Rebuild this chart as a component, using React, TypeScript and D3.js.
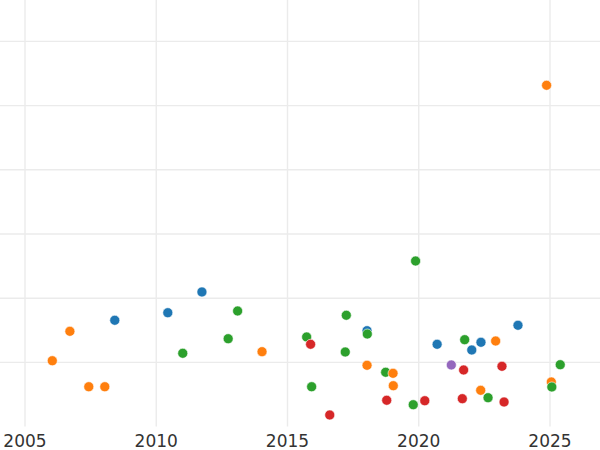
import React from 'react';
import * as d3 from 'd3';

// decimal years and values
const orangeYears = [2006.04, 2006.71, 2007.43, 2008.04, 2014.03, 2024.87, 2018.03, 2019.02, 2019.03, 2022.36, 2022.93, 2025.05];
const orangeValues = [1.026, 1.484, 0.621, 0.621, 1.167, 5.316, 0.955, 0.83, 0.637, 0.565, 1.333, 0.695];

const blueYears = [2008.42, 2010.44, 2011.74, 2018.03, 2020.7, 2022.02, 2022.37, 2023.78];
const blueValues = [1.656, 1.774, 2.097, 1.494, 1.282, 1.193, 1.313, 1.578];

const greenYears = [2011.01, 2012.74, 2013.1, 2015.73, 2015.92, 2017.24, 2017.2, 2018.04, 2018.74, 2019.88, 2019.79, 2021.75, 2022.64, 2025.07, 2025.39];
const greenValues = [1.142, 1.369, 1.801, 1.396, 0.621, 1.734, 1.162, 1.442, 0.846, 2.579, 0.341, 1.354, 0.45, 0.617, 0.964];

const redYears = [2015.88, 2016.61, 2018.78, 2020.23, 2021.71, 2021.66, 2023.17, 2023.25];
const redValues = [1.282, 0.181, 0.41, 0.403, 0.882, 0.435, 0.939, 0.383];

const purpleYears = [2021.24];
const purpleValues = [0.96];

const xTicks = [2005, 2010, 2015, 2020, 2025];
const yTicks = [1, 2, 3, 4, 5, 6];

const series = [
  { color: '#1f77b4', years: blueYears, values: blueValues },
  { color: '#ff7f0e', years: orangeYears, values: orangeValues },
  { color: '#2ca02c', years: greenYears, values: greenValues },
  { color: '#d62728', years: redYears, values: redValues },
  { color: '#9467bd', years: purpleYears, values: purpleValues },
];

const width = 600;
const height = 450;
const plotBottom = 426.6;

export default function App() {
  const x = d3.scaleLinear().domain([2005, 2025]).range([25, 550]);
  const y = d3.scaleLinear().domain([0, 6]).range([plotBottom, 41.4]);

  // draw in time order so later points sit on top
  const points = series
    .flatMap(s => s.years.map((yr, i) => ({ year: yr, value: s.values[i], color: s.color })))
    .sort((a, b) => a.year - b.year);

  return (
    <svg width={width} height={height} style={{ position: 'absolute', left: 0, top: 0, background: '#fff' }}>
      <g>
        {yTicks.map(t => (
          <line key={'h' + t} x1={0} x2={width} y1={y(t)} y2={y(t)} stroke="#ebebeb" strokeWidth={1.4} />
        ))}
        {xTicks.map(t => (
          <line key={'v' + t} x1={x(t)} x2={x(t)} y1={0} y2={plotBottom} stroke="#ebebeb" strokeWidth={1.4} />
        ))}
      </g>
      <g>
        {points.map((p, i) => (
          <circle key={i} cx={x(p.year)} cy={y(p.value)} r={5} fill={p.color} stroke="#fff" strokeWidth={0.6} />
        ))}
      </g>
      <g fontFamily="DejaVu Sans" fontSize={17} fill="#333">
        {xTicks.map(t => (
          <text key={'t' + t} x={x(t)} y={446.5} textAnchor="middle">{t}</text>
        ))}
      </g>
    </svg>
  );
}
